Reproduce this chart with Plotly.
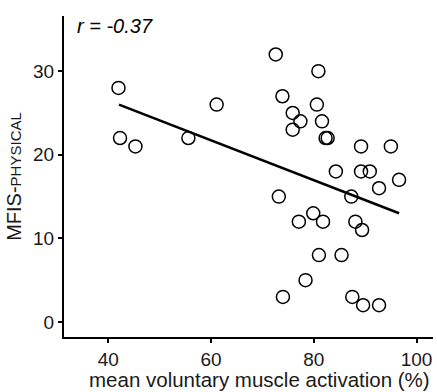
import plotly.graph_objects as go

activation = [42.0, 42.3, 45.3, 55.6, 61.1, 72.6, 73.9, 75.9, 77.4, 75.9, 80.9, 80.6,
              81.6, 82.3, 82.7, 89.2, 95.0, 84.3, 89.2, 90.9, 96.6, 92.7, 87.3,
              73.2, 79.9, 77.1, 81.8, 88.1, 89.4, 81.0, 85.4, 78.4, 74.0, 87.5, 89.6, 92.7]
mfis = [28, 22, 21, 22, 26, 32, 27, 25, 24, 23, 30, 26,
        24, 22, 22, 21, 21, 18, 18, 18, 17, 16, 15,
        15, 13, 12, 12, 12, 11, 8, 8, 5, 3, 3, 2, 2]

fit_x = [42.1, 96.6]
fit_y = [26.0, 13.0]

x_ticks = [40, 60, 80, 100]
y_ticks = [0, 10, 20, 30]

font = "Liberation Sans, Arial, sans-serif"

fig = go.Figure()
fig.add_trace(go.Scatter(x=fit_x, y=fit_y, mode="lines",
                         line=dict(color="black", width=2.5), showlegend=False))
fig.add_trace(go.Scatter(x=activation, y=mfis, mode="markers",
                         marker=dict(symbol="circle-open", size=13, color="black",
                                     line=dict(width=1.5, color="black")),
                         showlegend=False))

fig.update_layout(
    width=437, height=392,
    margin=dict(l=64, r=4, t=16, b=55),
    plot_bgcolor="white", paper_bgcolor="white",
    font=dict(family=font, size=19, color="#1a1a1a"),
    xaxis=dict(range=[31.4, 103.2], tickvals=x_ticks, showgrid=False, zeroline=False,
               showline=True, linecolor="black", linewidth=2, ticks="outside",
               ticklen=4, tickwidth=1.5, tickcolor="black"),
    yaxis=dict(range=[-1.8, 36.6], tickvals=y_ticks, showgrid=False, zeroline=False,
               showline=True, linecolor="black", linewidth=2, ticks="outside",
               ticklen=4, tickwidth=1.5, tickcolor="black",
               title=dict(text="MFIS-<span style='font-size:15px'>PHYSICAL</span>",
                          standoff=6, font=dict(size=20))),
    annotations=[
        dict(x=0.03, y=1.01, xref="paper", yref="paper", xanchor="left",
             yanchor="top", showarrow=False,
             text="<i>r = -0.37</i>", font=dict(size=20, color="black")),
        dict(x=0.53, y=0, xref="paper", yref="paper", xanchor="center",
             yanchor="top", yshift=-29, showarrow=False,
             text="mean voluntary muscle activation (%)",
             font=dict(size=20.5, color="#1a1a1a")),
    ],
)

fig.write_html("out.html")
